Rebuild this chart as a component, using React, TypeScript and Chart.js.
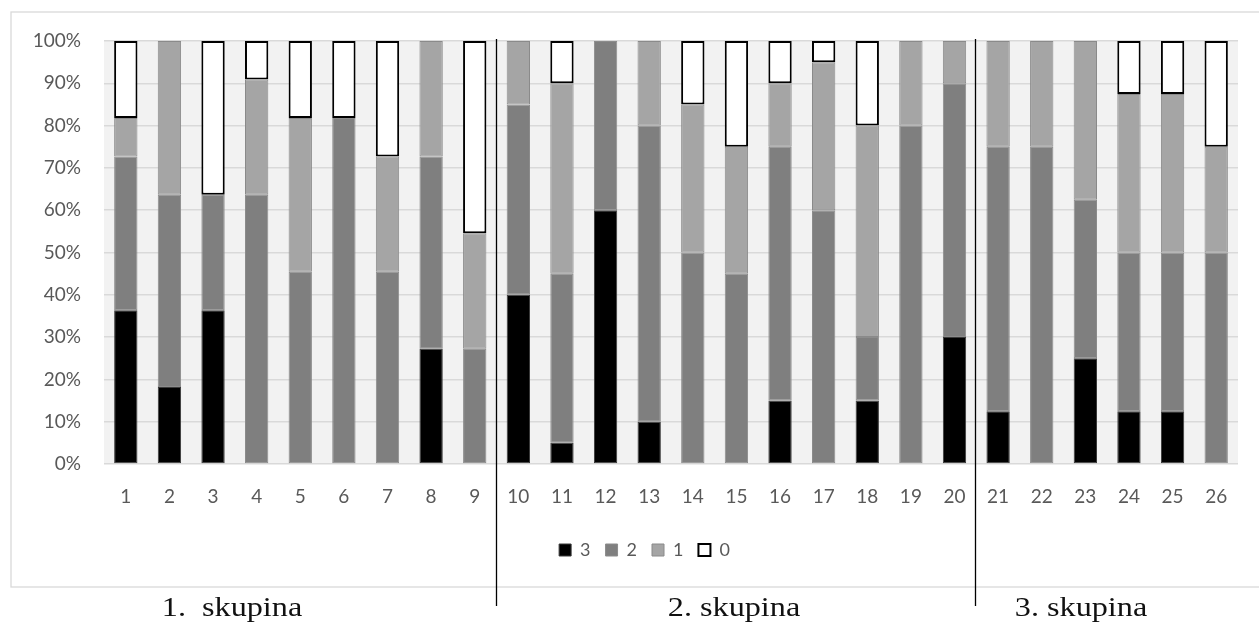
import React, { useEffect, useRef } from "react";
import { Chart, registerables } from "chart.js";

Chart.register(...registerables);

const categories = [
  "1", "2", "3", "4", "5", "6", "7", "8", "9", "10", "11", "12", "13",
  "14", "15", "16", "17", "18", "19", "20", "21", "22", "23", "24", "25", "26",
];

// share of answers (%) per level
const level3 = [36.36, 18.18, 36.36, 0, 0, 0, 0, 27.27, 0, 40, 5, 60, 10, 0, 0, 15, 0, 15, 0, 30, 12.5, 0, 25, 12.5, 12.5, 0];
const level2 = [36.36, 45.45, 27.27, 63.64, 45.45, 81.82, 45.45, 45.45, 27.27, 45, 40, 40, 70, 50, 45, 60, 60, 15, 80, 60, 62.5, 75, 37.5, 37.5, 37.5, 50];
const level1 = [9.09, 36.36, 0, 27.27, 36.36, 0, 27.27, 27.27, 27.27, 15, 45, 0, 20, 35, 30, 15, 35, 50, 20, 10, 25, 25, 37.5, 37.5, 37.5, 25];
const level0 = [18.18, 0, 36.36, 9.09, 18.18, 18.18, 27.27, 0, 45.45, 0, 10, 0, 0, 15, 25, 10, 5, 20, 0, 0, 0, 0, 0, 12.5, 12.5, 25];

const seriesNames = ["3", "2", "1", "0"];
const groupLabels = ["1.  skupina", "2. skupina", "3. skupina"];
const groupSeparatorsAfter = [9, 20]; // separator after these category numbers

const yTicks = [0, 10, 20, 30, 40, 50, 60, 70, 80, 90, 100];

const FONT = "Lato, 'Open Sans', sans-serif";

const decorPlugin = {
  id: "decor",
  beforeDraw(chart: any) {
    const { ctx, chartArea } = chart;
    ctx.save();
    ctx.fillStyle = "#ffffff";
    ctx.fillRect(0, 0, chart.width, chart.height);
    ctx.fillStyle = "#f2f2f2";
    ctx.fillRect(chartArea.left, chartArea.top, chartArea.right - chartArea.left, chartArea.bottom - chartArea.top);
    ctx.strokeStyle = "#d9d9d9";
    ctx.lineWidth = 1.3;
    ctx.strokeRect(11, 12, chart.width + 20, 575);
    ctx.restore();
  },
  afterDraw(chart: any) {
    const { ctx } = chart;
    const x = chart.scales.x;
    ctx.save();
    ctx.strokeStyle = "#000000";
    ctx.lineWidth = 1.3;
    groupSeparatorsAfter.forEach((n) => {
      const px = Math.round(x.getPixelForValue(n - 0.5)) - 0.5;
      ctx.beginPath();
      ctx.moveTo(px, 39);
      ctx.lineTo(px, 606);
      ctx.stroke();
    });
    ctx.fillStyle = "#111111";
    ctx.font = "28px 'Liberation Serif', 'Times New Roman', serif";
    ctx.textAlign = "center";
    ctx.textBaseline = "alphabetic";
    const centers = [232, 734, 1081];
    const sx = 1.15;
    groupLabels.forEach((t, i) => {
      ctx.save();
      ctx.translate(centers[i], 616);
      ctx.scale(sx, 1);
      ctx.fillText(t, 0, 0);
      ctx.restore();
    });
    ctx.restore();
  },
};

export default function App() {
  const ref = useRef<HTMLCanvasElement>(null);

  useEffect(() => {
    if (!ref.current) return;
    const nz = (arr: number[]) => arr.map((v) => (v === 0 ? null : v));
    const chart = new Chart(ref.current, {
      type: "bar",
      data: {
        labels: categories,
        datasets: [
          {
            label: seriesNames[0],
            data: nz(level3),
            backgroundColor: "#000000",
            borderColor: "#3a3a3a",
            borderWidth: 1,
            borderSkipped: false,
          },
          {
            label: seriesNames[1],
            data: nz(level2),
            backgroundColor: "#7f7f7f",
            borderColor: "#8c8c8c",
            borderWidth: 1,
            borderSkipped: false,
          },
          {
            label: seriesNames[2],
            data: nz(level1),
            backgroundColor: "#a5a5a5",
            borderColor: "#8a8a8a",
            borderWidth: 1,
            borderSkipped: false,
          },
          {
            label: seriesNames[3],
            data: nz(level0),
            backgroundColor: "#ffffff",
            borderColor: "#000000",
            borderWidth: 2,
            borderSkipped: false,
          },
        ] as any,
      },
      options: {
        responsive: false,
        animation: false,
        events: [],
        layout: { padding: { left: 30, right: 0, top: 41, bottom: 54 } },
        datasets: {
          bar: { categoryPercentage: 1, barPercentage: 0.535 },
        } as any,
        plugins: {
          tooltip: { enabled: false },
          legend: {
            position: "bottom",
            labels: {
              boxWidth: 12,
              boxHeight: 12,
              padding: 15,
              color: "#595959",
              font: { family: FONT, size: 18 },
            },
          },
        },
        scales: {
          x: {
            stacked: true,
            grid: { display: false, drawTicks: false },
            border: { display: false },
            ticks: {
              color: "#595959",
              font: { family: FONT, size: 19 },
              padding: 21,
              maxRotation: 0,
              autoSkip: false,
            },
            afterFit: (s: any) => {
              s.height = 62;
            },
          },
          y: {
            stacked: true,
            min: 0,
            max: 100,
            afterBuildTicks: (s: any) => {
              s.ticks = yTicks.map((v) => ({ value: v }));
            },
            grid: { color: "#d9d9d9", lineWidth: 1.5, drawTicks: false },
            border: { display: false },
            ticks: {
              color: "#595959",
              font: { family: FONT, size: 19 },
              padding: 23,
              callback: (v: any) => v + "%",
            },
            afterFit: (s: any) => {
              s.width = 74;
            },
          },
          yRight: {
            position: "right",
            display: true,
            grid: { display: false, drawTicks: false },
            border: { display: false },
            ticks: { display: false },
            afterFit: (s: any) => {
              s.width = 21;
            },
          },
        },
      },
      plugins: [decorPlugin],
    });
    return () => chart.destroy();
  }, []);

  return (
    <canvas
      ref={ref}
      width={1259}
      height={623}
      style={{ position: "absolute", left: 0, top: 0, display: "block" }}
    />
  );
}
